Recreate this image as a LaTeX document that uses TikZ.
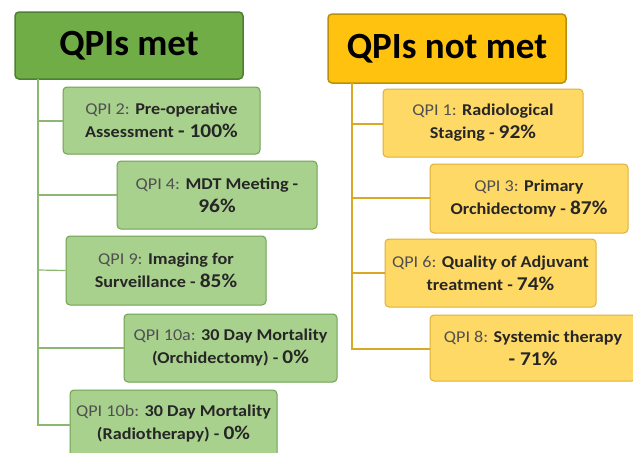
\documentclass[tikz,border=0pt]{standalone}
\usepackage{fontspec}
\setmainfont{Carlito}
\newfontfamily\subfont{Carlito}[FakeStretch=1.1]
\definecolor{gtitle}{HTML}{70AD47}
\definecolor{gtitleb}{HTML}{4F7F32}
\definecolor{gbox}{HTML}{A9D18E}
\definecolor{gboxb}{HTML}{6FA052}
\definecolor{gline}{HTML}{8DB872}
\definecolor{ytitle}{HTML}{FFC20E}
\definecolor{ytitleb}{HTML}{B8900A}
\definecolor{ybox}{HTML}{FFD966}
\definecolor{yboxb}{HTML}{DDB03A}
\definecolor{yline}{HTML}{D9A925}
\definecolor{lbl}{HTML}{505050}
\definecolor{txt}{HTML}{262626}
\newcommand{\qlab}[1]{{\mdseries\color{lbl}#1}}
\newcommand{\qpct}[1]{{\fontsize{19.5}{20}\selectfont\bfseries #1}}
\begin{document}
\begin{tikzpicture}[x=1pt,y=-1pt,
  titlebox/.style={draw, line width=1.5pt, rounded corners=4pt, inner sep=0pt, font=\fontsize{37}{40}\selectfont\bfseries, text=black},
  gsub/.style={draw=gboxb, fill=gbox, line width=1pt, rounded corners=4pt, inner sep=0pt, align=center, font=\subfont\fontsize{16.5}{23}\selectfont\bfseries, text=txt},
  ysub/.style={draw=yboxb, fill=ybox, line width=1pt, rounded corners=4pt, inner sep=0pt, align=center, font=\subfont\fontsize{16.5}{23}\selectfont\bfseries, text=txt},
  gcon/.style={draw=gline, line width=1.2pt},
  ycon/.style={draw=yline, line width=1.2pt}]
\useasboundingbox (0,0) rectangle (633,453);
% left column
\node[titlebox, draw=gtitleb, fill=gtitle, minimum width=228pt, minimum height=67pt] (met) at (129,45.5) {QPIs met};
\node[gsub, minimum width=197pt, minimum height=67pt] (q2) at (161.5,120.5) {\qlab{QPI 2:} Pre-operative\\Assessment \qpct{- 100\%}};
\node[gsub, minimum width=200pt, minimum height=68pt] (q4) at (217,195) {\qlab{QPI 4:} MDT Meeting -\\\qpct{96\%}};
\node[gsub, minimum width=200pt, minimum height=69pt] (q9) at (166,270.5) {\qlab{QPI 9:} Imaging for\\Surveillance - \qpct{85\%}};
\node[gsub, minimum width=213pt, minimum height=68pt] (q10a) at (230.5,348) {\qlab{QPI 10a:} 30 Day Mortality\\(Orchidectomy) - \qpct{0\%}};
\node[gsub, minimum width=207pt, minimum height=68pt] (q10b) at (173.5,424) {\qlab{QPI 10b:} 30 Day Mortality\\(Radiotherapy) - \qpct{0\%}};
\coordinate (lt) at (38,79);
\coordinate (lb) at (38,425);
\draw[gcon] (lt) -- (lb) -- (q10b.west |- lb);
\draw[gcon] (38,121) -- (q2.west |- 38,121);
\draw[gcon] (38,195) -- (q4.west);
\draw[gcon] (38,270) -- (q9.west);
\draw[gcon] (38,348) -- (q10a.west);
% right column
\node[titlebox, draw=ytitleb, fill=ytitle, minimum width=238pt, minimum height=69pt] (notmet) at (447,48.5) {QPIs not met};
\node[ysub, minimum width=200pt, minimum height=68pt] (q1) at (483,123) {\qlab{QPI 1:} Radiological\\Staging - \qpct{92\%}};
\node[ysub, minimum width=198pt, minimum height=69pt] (q3) at (529,198.5) {\qlab{QPI 3:} Primary\\Orchidectomy - \qpct{87\%}};
\node[ysub, minimum width=211pt, minimum height=68pt] (q6) at (490.5,273) {\qlab{QPI 6:} Quality of Adjuvant\\treatment - \qpct{74\%}};
\node[ysub, minimum width=206pt, minimum height=66pt] (q8) at (533,348) {\qlab{QPI 8:} Systemic therapy\\\qpct{- 71\%}};
\coordinate (rt) at (352,83);
\coordinate (rb) at (352,349);
\draw[ycon] (rt) -- (rb) -- (q8.west |- rb);
\draw[ycon] (352,124) -- (q1.west |- 352,124);
\draw[ycon] (352,198) -- (q3.west |- 352,198);
\draw[ycon] (352,273) -- (q6.west);
\end{tikzpicture}
\end{document}
